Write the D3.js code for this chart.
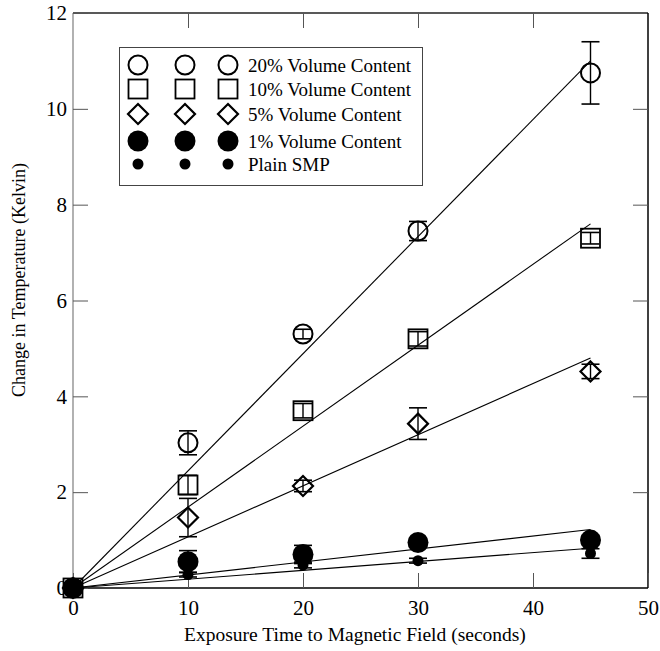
<!DOCTYPE html>
<html>
<head>
<meta charset="utf-8">
<script src="https://cdn.jsdelivr.net/npm/d3@7"></script>
<style>
  body { margin: 0; background: #fff; }
  svg text { font-family: "Liberation Serif", "DejaVu Serif", serif; fill: #000; }
</style>
</head>
<body>
<script>
// exposure times (s)
const times = [0, 10, 20, 30, 45];

// change in temperature (K) with error bars, per sample
const vol20 = [0, 3.03, 5.3, 7.45, 10.75];
const err20 = [0, 0.25, 0.1, 0.2, 0.65];
const vol10 = [0, 2.15, 3.7, 5.2, 7.3];
const err10 = [0, 0.2, 0.15, 0.15, 0.12];
const vol5 = [0, 1.47, 2.13, 3.43, 4.52];
const err5 = [0, 0.4, 0.12, 0.33, 0.15];
const vol1 = [0, 0.55, 0.7, 0.95, 1.0];
const err1 = [0, 0.23, 0.19, 0.08, 0.1];
const plain = [0, 0.28, 0.48, 0.57, 0.72];
const errPlain = [0, 0.05, 0.06, 0.05, 0.1];

// linear fits through origin: value at 45 s
const fitEnd = [11.0, 7.6, 4.8, 1.22, 0.83];

const seriesNames = ["20% Volume Content", "10% Volume Content", "5% Volume Content", "1% Volume Content", "Plain SMP"];
const symbolKinds = ["openCircle", "square", "diamond", "bigDot", "smallDot"];

const xTicks = [0, 10, 20, 30, 40, 50];
const yTicks = [0, 2, 4, 6, 8, 10, 12];

const W = 660, H = 651;
const plot = {left: 73, right: 648, top: 13, bottom: 588};

const svg = d3.select("body").append("svg")
    .attr("width", W)
    .attr("height", H);

const x = d3.scaleLinear().domain([0, 50]).range([plot.left, plot.right]);
const y = d3.scaleLinear().domain([0, 12]).range([plot.bottom, plot.top]);

// frame
svg.append("line").attr("x1", plot.left).attr("x2", plot.right).attr("y1", plot.top).attr("y2", plot.top)
    .attr("stroke", "#222").attr("stroke-width", 1.3);
svg.append("line").attr("x1", plot.left).attr("x2", plot.right).attr("y1", plot.bottom).attr("y2", plot.bottom)
    .attr("stroke", "#000").attr("stroke-width", 1.5);
svg.append("line").attr("x1", plot.left).attr("x2", plot.left).attr("y1", plot.top).attr("y2", plot.bottom)
    .attr("stroke", "#888").attr("stroke-width", 1.3);
svg.append("line").attr("x1", plot.right).attr("x2", plot.right).attr("y1", plot.top).attr("y2", plot.bottom)
    .attr("stroke", "#000").attr("stroke-width", 1.5);

// axes: inward ticks on all sides
const tl = 15;
svg.append("g").attr("transform", "translate(0," + plot.bottom + ")")
    .call(d3.axisBottom(x).tickValues(xTicks).tickSizeInner(-tl).tickSizeOuter(0).tickPadding(12))
    .call(g => g.select(".domain").remove())
    .call(g => g.selectAll(".tick line").attr("stroke", "#555"))
    .call(g => g.selectAll(".tick text").attr("font-size", 21).attr("dy", "0.71em"));

svg.append("g").attr("transform", "translate(0," + plot.top + ")")
    .call(d3.axisTop(x).tickValues(xTicks.slice(1, -1)).tickSizeInner(-tl).tickSizeOuter(0).tickFormat(""))
    .call(g => g.select(".domain").remove())
    .call(g => g.selectAll(".tick line").attr("stroke", "#555"));

svg.append("g").attr("transform", "translate(" + plot.left + ",0)")
    .call(d3.axisLeft(y).tickValues(yTicks).tickSizeInner(-tl).tickSizeOuter(0).tickPadding(4))
    .call(g => g.select(".domain").remove())
    .call(g => g.selectAll(".tick line").attr("stroke", "#555"))
    .call(g => g.selectAll(".tick text").attr("font-size", 21).attr("x", -6));

svg.append("g").attr("transform", "translate(" + plot.right + ",0)")
    .call(d3.axisRight(y).tickValues(yTicks.slice(1, -1)).tickSizeInner(-tl).tickSizeOuter(0).tickFormat(""))
    .call(g => g.select(".domain").remove())
    .call(g => g.selectAll(".tick line").attr("stroke", "#555"));

// axis titles
svg.append("text")
    .attr("x", 355).attr("y", 641)
    .attr("text-anchor", "middle").attr("font-size", 19.5)
    .text("Exposure Time to Magnetic Field (seconds)");

svg.append("text")
    .attr("transform", "translate(25,280) rotate(-90)")
    .attr("text-anchor", "middle").attr("font-size", 18)
    .text("Change in Temperature (Kelvin)");

// symbol drawing
function drawSymbol(g, kind, cx, cy) {
  if (kind === "openCircle") {
    g.append("circle").attr("cx", cx).attr("cy", cy).attr("r", 9.5)
      .attr("fill", "none").attr("stroke", "#000").attr("stroke-width", 2);
  } else if (kind === "square") {
    g.append("rect").attr("x", cx - 9.5).attr("y", cy - 9.5).attr("width", 19).attr("height", 19)
      .attr("fill", "none").attr("stroke", "#000").attr("stroke-width", 1.8);
  } else if (kind === "diamond") {
    const r = 10;
    g.append("path").attr("d", `M${cx},${cy - r}L${cx + r},${cy}L${cx},${cy + r}L${cx - r},${cy}Z`)
      .attr("fill", "none").attr("stroke", "#000").attr("stroke-width", 2.2);
  } else if (kind === "bigDot") {
    g.append("circle").attr("cx", cx).attr("cy", cy).attr("r", 10.5).attr("fill", "#000");
  } else {
    g.append("circle").attr("cx", cx).attr("cy", cy).attr("r", 5.5).attr("fill", "#000");
  }
}

const series = [
  {vals: vol20, errs: err20},
  {vals: vol10, errs: err10},
  {vals: vol5, errs: err5},
  {vals: vol1, errs: err1},
  {vals: plain, errs: errPlain}
];

// fit lines
const fitG = svg.append("g");
fitEnd.forEach(function(v) {
  fitG.append("line")
    .attr("x1", x(0)).attr("y1", y(0))
    .attr("x2", x(45)).attr("y2", y(v))
    .attr("stroke", "#000").attr("stroke-width", 1.1);
});

// error bars and markers
const markG = svg.append("g");
series.forEach(function(s, si) {
  times.forEach(function(t, i) {
    const cx = x(t);
    const e = s.errs[i];
    if (e > 0) {
      const y1 = y(s.vals[i] + e), y2 = y(s.vals[i] - e);
      markG.append("line").attr("x1", cx).attr("x2", cx).attr("y1", y1).attr("y2", y2)
        .attr("stroke", "#000").attr("stroke-width", 1.4);
      [y1, y2].forEach(function(yy) {
        markG.append("line").attr("x1", cx - 9).attr("x2", cx + 9).attr("y1", yy).attr("y2", yy)
          .attr("stroke", "#000").attr("stroke-width", 1.6);
      });
    }
    drawSymbol(markG, symbolKinds[si], cx, y(s.vals[i]));
  });
});

// legend
const legend = svg.append("g");
legend.append("rect").attr("x", 119.5).attr("y", 47.5).attr("width", 303).attr("height", 138)
  .attr("fill", "#fff").attr("stroke", "#444").attr("stroke-width", 1);
const legendRowY = [65, 89, 114, 141, 164];
const legendColX = [138, 185, 228];
seriesNames.forEach(function(name, i) {
  legendColX.forEach(function(cx) { drawSymbol(legend, symbolKinds[i], cx, legendRowY[i]); });
  legend.append("text").attr("x", 248).attr("y", legendRowY[i] + 6.5)
    .attr("font-size", 19).text(name);
});
</script>
</body>
</html>
